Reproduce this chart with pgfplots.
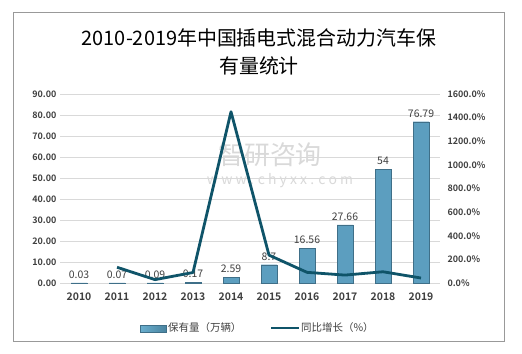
\documentclass[border=0pt]{standalone}
\usepackage{pgfplots}
\pgfplotsset{compat=1.18}
\usepackage{fontspec}
\setmainfont{Noto Sans CJK SC}
\newfontfamily\cjk{Noto Sans CJK SC}
\newfontfamily\cjkb{Noto Sans CJK SC Bold}
\definecolor{barL}{HTML}{6AAFCF}
\definecolor{barR}{HTML}{4A84A0}
\definecolor{barM}{HTML}{5C9EBF}
\definecolor{barE}{HTML}{3F6F88}
\definecolor{lineC}{HTML}{0F5469}
\definecolor{gridC}{HTML}{D9D9D9}
\definecolor{txt}{HTML}{404040}
\begin{document}
\begin{tikzpicture}[x=1bp,y=1bp]
\path[fill=white] (0,0) rectangle (522,353);
\draw[gray!80,line width=0.8bp] (13,12) rectangle (504,341);
\node[align=center,font=\fontsize{20}{28}\selectfont,text=black] at (259,301)
  {2010-2019年中国插电式混合动力汽车保\\有量统计};
\node[text=gray!30,font=\fontsize{26}{28}\selectfont] at (270,198) {智研咨询};
\node[text=gray!30,font=\fontsize{14}{16}\selectfont] at (280,172) {w w w . c h y x x . c o m};
\begin{axis}[
  at={(60bp,70bp)}, anchor=south west,
  scale only axis, width=380bp, height=189bp,
  xmin=-0.5, xmax=9.5, ymin=0, ymax=90,
  xtick={0,...,9},
  xticklabels={2010,2011,2012,2013,2014,2015,2016,2017,2018,2019},
  ytick={0,10,...,90},
  ymajorgrids, grid style={gridC,line width=0.7bp},
  axis line style={draw=none},
  major tick length=0pt,
  yticklabel style={font=\fontsize{9}{10}\selectfont\cjkb, text=txt, /pgf/number format/.cd, fixed, fixed zerofill, precision=2, assume math mode=true},
  xticklabel style={font=\fontsize{10.5}{11}\selectfont\cjkb, text=txt, yshift=-6bp},
  ybar, bar width=16bp,
  nodes near coords,
  point meta=explicit symbolic,
  nodes near coords style={font=\fontsize{10.5}{11}\selectfont, text=txt, yshift=1bp},
  clip=false,
]
\addplot[draw=barE, line width=0.4bp, fill=barM] coordinates {
(0,0.03)[0.03] (1,0.07)[0.07] (2,0.09)[0.09] (3,0.17)[0.17] (4,2.59)[2.59]
(5,8.7)[8.7] (6,16.56)[16.56] (7,27.66)[27.66] (8,54)[54] (9,76.79)[76.79]};
\end{axis}
\begin{axis}[
  at={(60bp,70bp)}, anchor=south west,
  scale only axis, width=380bp, height=189bp,
  xmin=-0.5, xmax=9.5, ymin=0, ymax=1600,
  xtick=\empty,
  ytick={0,200,...,1600},
  axis y line*=right, axis x line=none,
  axis line style={draw=none},
  major tick length=0pt,
  yticklabel={\pgfmathprintnumber{\tick}\%},
  yticklabel style={font=\fontsize{9}{10}\selectfont\cjkb, text=txt, xshift=4bp, /pgf/number format/.cd, fixed, fixed zerofill, precision=1, 1000 sep={}, assume math mode=true},
  clip=false,
]
\addplot[lineC, line width=2.8bp, mark=none, line join=round] coordinates {
(1,133.3) (2,28.6) (3,88.9) (4,1450) (5,235.9) (6,90.3) (7,67.0) (8,95.2) (9,42.2)};
\end{axis}
% legend
\shade[left color=barL, right color=barR, draw=barE, line width=0.3bp] (140,21) rectangle (166,28);
\node[anchor=west, font=\fontsize{10.5}{11}\selectfont, text=txt, inner sep=0pt] at (168,25) {保有量（万辆）};
\draw[lineC, line width=2.8bp] (271,25) -- (299,25);
\node[anchor=west, font=\fontsize{10.5}{11}\selectfont, text=txt, inner sep=0pt] at (301,25) {同比增长（\%）};
\end{tikzpicture}
\end{document}
